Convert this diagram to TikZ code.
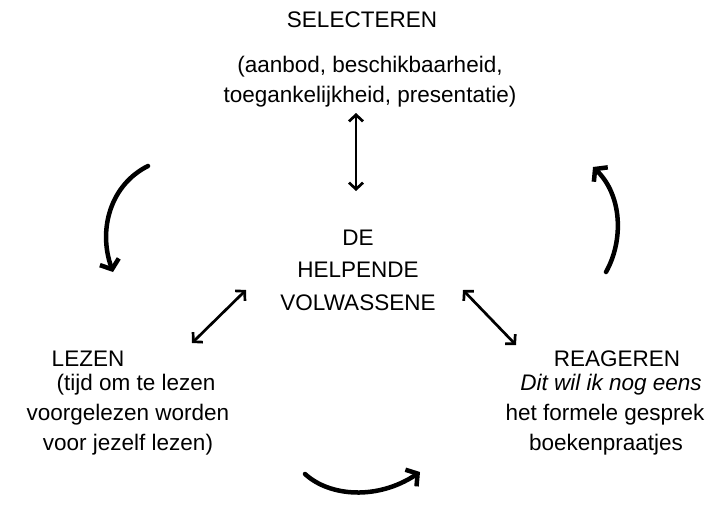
\documentclass[tikz,border=0pt]{standalone}
\usepackage{fontspec}
\setmainfont{Liberation Sans}
\usetikzlibrary{arrows.meta}
\begin{document}
\begin{tikzpicture}[x=1pt,y=-1pt,
  lbl/.style={font=\fontsize{22.5}{30}\selectfont, inner sep=0pt, align=center},
  thin2/.style={line width=2.7pt, {Straight Barb[length=6.5pt,width=14pt]}-{Straight Barb[length=6.5pt,width=14pt]}},
  brush/.style={line width=4.5pt, line cap=round, -{Straight Barb[length=8pt,width=20pt]}}]
\useasboundingbox (0,0) rectangle (706,506);
\node[lbl] (sel) at (362,20) {SELECTEREN};
\node[lbl] (seldesc) at (370,82) {(aanbod, beschikbaarheid,\\toegankelijkheid, presentatie)};
\node[lbl, font=\fontsize{22.5}{32.5}\selectfont] (center) at (358,270) {DE\\HELPENDE\\VOLWASSENE};
\node[lbl] (lez) at (88,359) {LEZEN};
\node[lbl] (lez1) at (136,385) {(tijd om te lezen};
\node[lbl] (lez2) at (128,415) {voorgelezen worden};
\node[lbl] (lez3) at (128,445) {voor jezelf lezen)};
\node[lbl] (rea) at (617,359) {REAGEREN};
\node[lbl] (rea1) at (611,385) {\textit{Dit wil ik nog eens}};
\node[lbl] (rea2) at (605,415) {het formele gesprek};
\node[lbl] (rea3) at (606,445) {boekenpraatjes};
\coordinate (v1) at (356,113);
\coordinate (v2) at (356,191);
\coordinate (l1) at (192,343);
\coordinate (l2) at (246,290);
\coordinate (r1) at (463,290);
\coordinate (r2) at (516,345);
\draw[thin2] (v1) -- (v2);
\draw[thin2] (l1) -- (l2);
\draw[thin2] (r1) -- (r2);
\coordinate (a1) at (148,166);
\coordinate (a2) at (113,272);
\draw[brush] (a1) .. controls (110,185) and (98,230) .. (a2);
\coordinate (b1) at (606,272);
\coordinate (b2) at (593,167);
\draw[brush] (b1) .. controls (624,240) and (622,195) .. (b2);
\coordinate (c1) at (305,474);
\coordinate (c2) at (420,472);
\draw[brush] (c1) .. controls (330,497) and (378,500) .. (c2);
\end{tikzpicture}
\end{document}
